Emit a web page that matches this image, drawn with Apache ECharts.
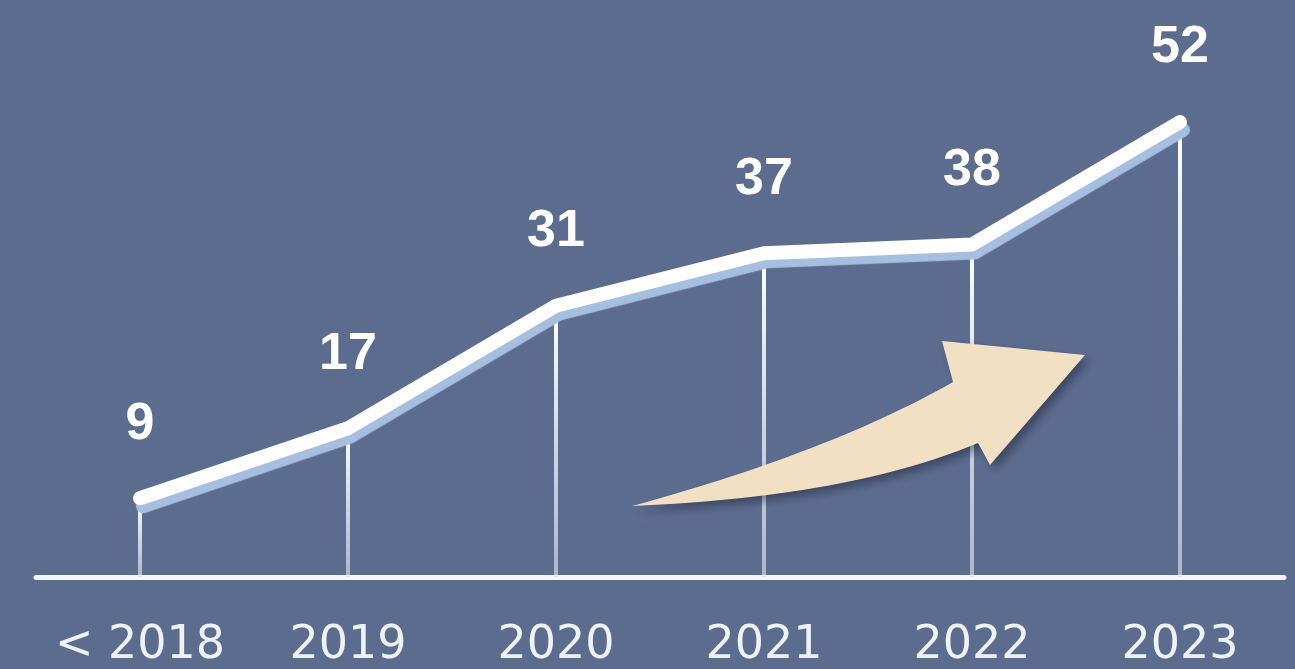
<!DOCTYPE html>
<html>
<head>
<meta charset="utf-8">
<script src="https://cdn.jsdelivr.net/npm/echarts@6/dist/echarts.min.js"></script>
<style>
html,body{margin:0;padding:0;background:#5c6c8f;}
#chart{width:1295px;height:669px;}
</style>
</head>
<body>
<div id="chart"></div>
<script>
var categories = ['< 2018', '2019', '2020', '2021', '2022', '2023'];
var values = [9, 17, 31, 37, 38, 52];

// decorative arrow outline (quadratic curves sampled into a polygon)
function quad(p0, c, p1, n) {
  var pts = [];
  for (var i = 0; i <= n; i++) {
    var t = i / n, u = 1 - t;
    pts.push([u * u * p0[0] + 2 * u * t * c[0] + t * t * p1[0],
              u * u * p0[1] + 2 * u * t * c[1] + t * t * p1[1]]);
  }
  return pts;
}
var arrowPts = quad([632, 506], [830, 452], [953, 382], 30)
  .concat([[942, 341], [1085, 355], [990, 465]])
  .concat(quad([978, 443], [850, 497], [632, 506], 30));

var chart = echarts.init(document.getElementById('chart'), null, {renderer: 'canvas'});
var option = {
  backgroundColor: '#5c6c8f',
  animation: false,
  grid: {left: 36, right: 11, top: 52, bottom: 89},
  xAxis: {
    type: 'category',
    data: categories,
    boundaryGap: true,
    axisLine: {show: true, lineStyle: {color: '#f4f7fc', width: 5}},
    axisTick: {show: false},
    axisLabel: {
      interval: 0,
      hideOverlap: false,
      color: '#eef2f9',
      fontSize: 46,
      fontFamily: 'DejaVu Sans',
      margin: 46
    },
    splitLine: {show: false}
  },
  yAxis: {
    type: 'value',
    min: 0,
    max: 60,
    show: false
  },
  graphic: [{
    type: 'polygon',
    z: 5,
    shape: {points: arrowPts},
    style: {
      fill: '#f1e0c3',
      shadowColor: 'rgba(20,25,45,0.45)',
      shadowBlur: 10,
      shadowOffsetX: 5,
      shadowOffsetY: 5
    }
  }],
  series: [
    {
      type: 'bar',
      data: values,
      barWidth: 4,
      z: 2,
      itemStyle: {
        color: {
          type: 'linear', x: 0, y: 0, x2: 0, y2: 1,
          colorStops: [
            {offset: 0, color: 'rgba(255,255,255,1)'},
            {offset: 1, color: 'rgba(225,232,245,0.6)'}
          ]
        }
      },
      label: {
        show: true,
        position: 'top',
        distance: 48,
        color: '#ffffff',
        fontSize: 52,
        fontWeight: 'bold',
        fontFamily: 'Liberation Sans'
      }
    },
    {
      type: 'line',
      data: values,
      z: 8,
      symbol: 'none',
      lineStyle: {
        color: '#ffffff',
        width: 14,
        cap: 'round',
        join: 'round',
        shadowColor: '#a6bee0',
        shadowBlur: 1,
        shadowOffsetX: 3,
        shadowOffsetY: 8
      }
    }
  ]
};
chart.setOption(option);
</script>
</body>
</html>
